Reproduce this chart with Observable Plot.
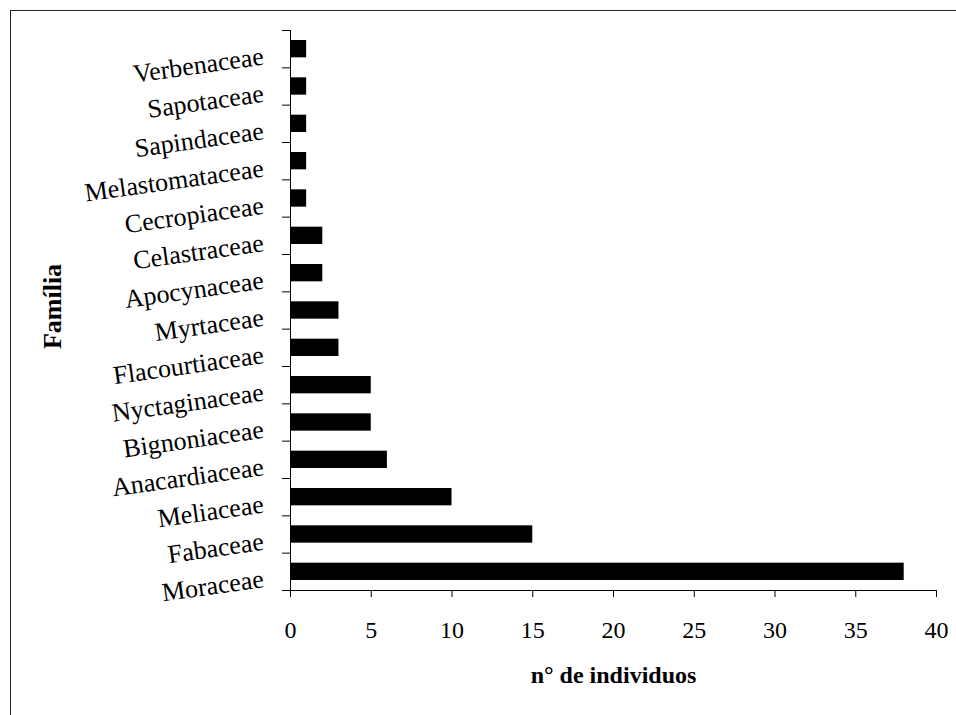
<!DOCTYPE html>
<html><head><meta charset="utf-8">
<script src="https://cdn.jsdelivr.net/npm/d3@7"></script>
<script src="https://cdn.jsdelivr.net/npm/@observablehq/plot@0.6"></script>
<style>
body{margin:0;background:#fff;}
#wrap{position:relative;width:956px;height:715px;overflow:hidden;background:#fff;}
#border{position:absolute;left:10px;top:10px;width:980px;height:740px;border:1.5px solid #222;box-sizing:border-box;pointer-events:none;}
#wrap svg{position:absolute;left:0;top:0;}
</style></head><body><div id="wrap"><div id="border"></div></div>
<script>
// Categories from bottom to top
const families = ["Moraceae","Fabaceae","Meliaceae","Anacardiaceae","Bignoniaceae","Nyctaginaceae","Flacourtiaceae","Myrtaceae","Apocynaceae","Celastraceae","Cecropiaceae","Melastomataceae","Sapindaceae","Sapotaceae","Verbenaceae"];
const counts = [38,15,10,6,5,5,3,3,2,2,1,1,1,1,1];
const xTicks = [0,5,10,15,20,25,30,35,40];
const xTitle = "n° de individuos";
const yTitle = "Família";

const data = families.map((f,i)=>({family:f, count:counts[i], i}));

const chart = Plot.plot({
  width:956, height:715,
  marginLeft:290, marginRight:20, marginTop:30, marginBottom:125,
  style:{fontFamily:"'Liberation Serif','Times New Roman',serif", color:"#000", background:"transparent"},
  x:{domain:[0,40]},
  y:{domain:[0,families.length]},
  marks:[
    Plot.rectX(data,{x1:0, x2:"count", y1:"i", y2:d=>d.i+1, insetTop:10, insetBottom:10, fill:"#000"}),
    Plot.ruleX([0],{stroke:"#000"}),
    Plot.ruleY([0],{stroke:"#000"}),
    Plot.axisY({ticks:d3.range(families.length+1), tickSize:8, tickFormat:()=>"", label:null}),
    Plot.axisX({ticks:xTicks, tickSize:7, tickPadding:23, fontSize:24, label:null}),
    Plot.text(data,{y:d=>d.i+0.5, text:"family", frameAnchor:"left", dx:-27, dy:7, textAnchor:"end", lineAnchor:"middle", rotate:-8, fontSize:26}),
    Plot.text([xTitle],{text:d=>d, frameAnchor:"bottom", dy:85, textAnchor:"middle", lineAnchor:"middle", fontSize:24, fontWeight:"bold"}),
    Plot.text([yTitle],{text:d=>d, frameAnchor:"left", dx:-238, dy:-4, textAnchor:"middle", lineAnchor:"middle", rotate:-90, fontSize:26, fontWeight:"bold"})
  ]
});
document.getElementById("wrap").appendChild(chart);
</script>
</body></html>
